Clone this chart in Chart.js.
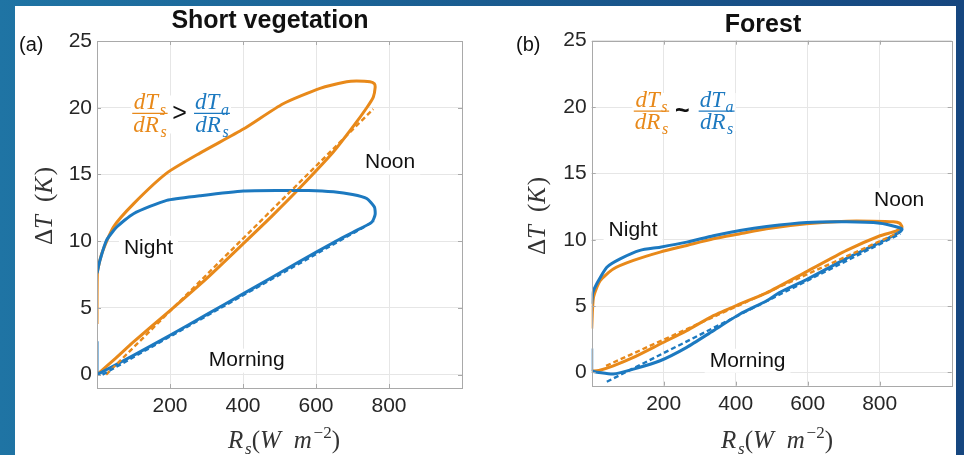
<!DOCTYPE html>
<html>
<head>
<meta charset="utf-8">
<script src="https://cdn.jsdelivr.net/npm/chart.js@4.4.1/dist/chart.umd.min.js"></script>
<style>
  html, body { margin:0; padding:0; }
  body { width:964px; height:455px; overflow:hidden; position:relative;
         background: linear-gradient(90deg, #1f74a4 0%, #1a5c90 50%, #16467f 100%); }
  #sheet { position:absolute; left:15px; top:6px; width:941px; height:449px; background:#fff; }
  canvas { position:absolute; top:0; }
  #chart-a { left:0; }
  #chart-b { left:465px; }
</style>
</head>
<body>
<div id="sheet">
  <canvas id="chart-a" width="465" height="449"></canvas>
  <canvas id="chart-b" width="476" height="449"></canvas>
</div>
<script>
// ═══════════════════════════════════════════════════════
//  Diurnal ΔT vs Rs hysteresis — short vegetation / forest
// ═══════════════════════════════════════════════════════

const TITLES  = ["Short vegetation", "Forest"];
const X_TICKS = [200, 400, 600, 800];
const Y_TICKS = [0, 5, 10, 15, 20, 25];

// ── (a) Short vegetation ─────────────────────────────────
const SV_TS_X = [0, 50, 100, 200, 300, 400, 480, 556, 648, 702, 739, 757, 762, 760, 748, 711, 684, 611, 510, 401, 282, 191, 100, 45, 13, 1, 0];
const SV_TS_Y = [0, 1.2, 2.45, 4.8, 7.2, 9.8, 11.9, 14.0, 16.7, 18.6, 20.0, 20.8, 21.5, 21.8, 21.95, 22.0, 21.95, 21.45, 20.3, 18.4, 16.6, 15.1, 12.8, 11.06, 9.06, 7.6, 3.8];
const SV_TA_X = [0, 100, 200, 300, 400, 480, 556, 648, 700, 753, 762, 760, 739, 700, 648, 580, 510, 401, 282, 191, 100, 54, 26, 8, 0];
const SV_TA_Y = [0, 1.45, 2.95, 4.5, 6.05, 7.3, 8.5, 9.9, 10.65, 11.43, 12.0, 12.56, 13.2, 13.5, 13.7, 13.8, 13.8, 13.76, 13.4, 13.06, 12.06, 11.06, 10.06, 8.56, 7.6];
const SV_TA_NIGHT_X = [0, 0];
const SV_TA_NIGHT_Y = [2.5, 0];
const SV_TS_FIT_X = [25, 757];
const SV_TS_FIT_Y = [0, 19.9];
const SV_TA_FIT_X = [15, 760];
const SV_TA_FIT_Y = [0, 11.5];

// ── (b) Forest ───────────────────────────────────────────
const FO_TS_X = [0, 20, 60, 116, 190, 264, 338, 412, 486, 597, 708, 801, 845, 862, 855, 838, 780, 708, 597, 486, 412, 338, 264, 190, 116, 60, 23, 5, 0];
const FO_TS_Y = [0.1, 0.15, 0.5, 1.13, 2.14, 3.15, 4.28, 5.16, 6.0, 7.6, 9.2, 10.3, 10.65, 10.95, 11.25, 11.35, 11.4, 11.4, 11.2, 10.83, 10.45, 10.07, 9.57, 9.07, 8.44, 7.8, 6.9, 5.66, 3.3];
const FO_TA_X = [0, 20, 60, 116, 190, 264, 338, 412, 486, 523, 597, 708, 801, 857, 862, 843, 801, 708, 597, 486, 412, 338, 264, 190, 134, 79, 42, 14, 3, 0];
const FO_TA_Y = [0.1, 0.0, -0.12, 0.25, 0.88, 1.89, 3.15, 4.4, 5.4, 6.04, 7.0, 8.6, 9.8, 10.6, 10.8, 11.0, 11.25, 11.35, 11.3, 11.0, 10.7, 10.3, 9.82, 9.44, 9.2, 8.56, 7.93, 6.68, 6.0, 5.17];
const FO_TA_NIGHT_X = [0, 0];
const FO_TA_NIGHT_Y = [1.8, 0.1];
const FO_TS_FIT_X = [40, 850];
const FO_TS_FIT_Y = [0.5, 10.5];
const FO_TA_FIT_X = [42, 857];
const FO_TA_FIT_Y = [-0.7, 10.45];

// ── Style ────────────────────────────────────────────────
const C_TS   = "#E8891A";
const C_TA   = "#1C79C0";
const SANS   = '"Liberation Sans", Arial, Helvetica, sans-serif';
const SERIF  = '"Liberation Serif", "Times New Roman", serif';
const FRAME  = "#a9a9a9";

const X_TITLE = [["R","i"],["s","sub"],["(","r"],["W","i"],["\u2009 ","r"],["m","i"],["\u22122","sup"],[")","r"]];
const Y_TITLE = [["\u0394","r"],["T","i"],["\u2009 ","r"],["(","r"],["K","i"],[")","r"]];
const FRAC_TS = { num:[["dT","i"],["s","sub"]], den:[["dR","i"],["s","sub"]] };
const FRAC_TA = { num:[["dT","i"],["a","sub"]], den:[["dR","i"],["s","sub"]] };

// ── Math text helpers ────────────────────────────────────
function mathFont(k, size) {
  if (k === "i")   return `italic ${size}px ${SERIF}`;
  if (k === "r")   return `${size}px ${SERIF}`;
  if (k === "sub") return `italic ${Math.round(size*0.68)}px ${SERIF}`;
  return `${Math.round(size*0.68)}px ${SERIF}`;
}
function mathWidth(ctx, runs, size) {
  return runs.reduce((w,[t,k]) => {
    ctx.font = mathFont(k, size);
    return w + ctx.measureText(t).width + (k==="i" ? size*0.07 : 0);
  }, 0);
}
function drawMath(ctx, runs, x, y, size) {
  ctx.textAlign = "left"; ctx.textBaseline = "alphabetic";
  runs.forEach(([t,k]) => {
    ctx.font = mathFont(k, size);
    const dy = k==="sub" ? size*0.22 : k==="sup" ? -size*0.42 : 0;
    ctx.fillText(t, x, y + dy);
    x += ctx.measureText(t).width + (k==="i" ? size*0.07 : 0);
  });
}
function drawFrac(ctx, f, cx, barY, size, color) {
  const wn = mathWidth(ctx, f.num, size), wd = mathWidth(ctx, f.den, size);
  const w  = Math.max(wn, wd) + 2;
  ctx.fillStyle = color; ctx.strokeStyle = color; ctx.lineWidth = 1.3;
  drawMath(ctx, f.num, cx - wn/2, barY - 4, size);
  drawMath(ctx, f.den, cx - wd/2, barY + size*0.8, size);
  ctx.beginPath(); ctx.moveTo(cx - w/2, barY); ctx.lineTo(cx + w/2, barY); ctx.stroke();
}

// ── Panel layout (canvas px / data positions of notes) ───
const PANELS = [
  { id:"chart-a", title:TITLES[0], tag:"(a)",
    series:[[SV_TA_FIT_X,SV_TA_FIT_Y,C_TA,true],[SV_TS_FIT_X,SV_TS_FIT_Y,C_TS,true],
            [SV_TA_NIGHT_X,SV_TA_NIGHT_Y,C_TA,false],[SV_TA_X,SV_TA_Y,C_TA,false],[SV_TS_X,SV_TS_Y,C_TS,false]],
    pad:{ top:35, right:18, bottom:0 }, yWidth:82, xHeight:67,
    titleAt:[255,15], tagAt:[4,39], yTitleAt:[28,200], xTitleAt:[269,442],
    notes:[["Night",141,9.5],["Noon",803,15.9],["Morning",410,1.05]],
    frac:{ a:145, op:226, b:315, y:19.57, sym:">" } },
  { id:"chart-b", title:TITLES[1], tag:"(b)",
    series:[[FO_TA_FIT_X,FO_TA_FIT_Y,C_TA,true],[FO_TS_FIT_X,FO_TS_FIT_Y,C_TS,true],
            [FO_TA_NIGHT_X,FO_TA_NIGHT_Y,C_TA,false],[FO_TA_X,FO_TA_Y,C_TA,false],[FO_TS_X,FO_TS_Y,C_TS,false]],
    pad:{ top:34.7, right:4.3, bottom:0 }, yWidth:111.7, xHeight:69.3,
    titleAt:[283,19], tagAt:[36,39], yTitleAt:[56,210], xTitleAt:[297,442],
    notes:[["Night",115,10.7],["Noon",854,13.0],["Morning",433,0.88]],
    frac:{ a:166, op:252, b:347, y:19.7, sym:"~" } }
];

// ── Plugins ──────────────────────────────────────────────
function noteBox(ctx, chart, n) {
  ctx.font = `21px ${SANS}`;
  const w = ctx.measureText(n[0]).width;
  const x = chart.scales.x.getPixelForValue(n[1]), y = chart.scales.y.getPixelForValue(n[2]);
  return { x, y, w };
}

const decorPlugin = {
  id: "decor",
  beforeDatasetsDraw(chart, args, o) {
    const ctx = chart.ctx, p = o.panel, sx = chart.scales.x, sy = chart.scales.y;
    ctx.save();
    ctx.fillStyle = "#fff";
    p.notes.forEach(n => {
      const b = noteBox(ctx, chart, n);
      ctx.fillRect(b.x - b.w/2 - 5, b.y - 12, b.w + 10, 24);
    });
    const fa = sx.getPixelForValue(p.frac.a), fb = sx.getPixelForValue(p.frac.b), fy = sy.getPixelForValue(p.frac.y);
    ctx.fillRect(fa - 19, fy - 18, fb - fa + 38, 38);
    ctx.restore();
  },
  afterDatasetsDraw(chart, args, o) {
    const ctx = chart.ctx, p = o.panel, a = chart.chartArea, sx = chart.scales.x, sy = chart.scales.y;
    ctx.save();
    // box + inward ticks
    ctx.strokeStyle = FRAME; ctx.lineWidth = 1;
    ctx.strokeRect(Math.round(a.left)+0.5, Math.round(a.top)+0.5, Math.round(a.right-a.left), Math.round(a.bottom-a.top));
    ctx.beginPath();
    X_TICKS.forEach(v => {
      const x = Math.round(sx.getPixelForValue(v)) + 0.5;
      ctx.moveTo(x, a.bottom); ctx.lineTo(x, a.bottom - 4);
      ctx.moveTo(x, a.top);    ctx.lineTo(x, a.top + 4);
    });
    Y_TICKS.forEach(v => {
      const y = Math.round(sy.getPixelForValue(v)) + 0.5;
      ctx.moveTo(a.left, y);  ctx.lineTo(a.left + 4, y);
      ctx.moveTo(a.right, y); ctx.lineTo(a.right - 4, y);
    });
    ctx.stroke();

    // notes
    ctx.fillStyle = "#111"; ctx.textAlign = "center"; ctx.textBaseline = "middle";
    p.notes.forEach(n => {
      const b = noteBox(ctx, chart, n);
      ctx.fillText(n[0], b.x, b.y);
    });

    // slope fractions
    const fy = sy.getPixelForValue(p.frac.y);
    drawFrac(ctx, FRAC_TS, sx.getPixelForValue(p.frac.a), fy, 23, C_TS);
    drawFrac(ctx, FRAC_TA, sx.getPixelForValue(p.frac.b), fy, 23, C_TA);
    ctx.fillStyle = "#111"; ctx.textAlign = "center"; ctx.textBaseline = "middle";
    ctx.font = p.frac.sym === ">" ? `25px ${SANS}` : `bold 25px ${SANS}`;
    ctx.fillText(p.frac.sym, sx.getPixelForValue(p.frac.op), fy + 1);

    // title + panel tag
    ctx.font = `bold 25px ${SANS}`;
    ctx.fillText(p.title, p.titleAt[0], p.titleAt[1]);
    ctx.font = `20px ${SANS}`; ctx.textAlign = "left";
    ctx.fillText(p.tag, p.tagAt[0], p.tagAt[1]);

    // axis titles
    ctx.fillStyle = "#333";
    const xs = 25, xw = mathWidth(ctx, X_TITLE, xs);
    drawMath(ctx, X_TITLE, p.xTitleAt[0] - xw/2, p.xTitleAt[1], xs);
    const ys = 25, yw = mathWidth(ctx, Y_TITLE, ys);
    ctx.translate(p.yTitleAt[0], p.yTitleAt[1]);
    ctx.rotate(-Math.PI/2);
    drawMath(ctx, Y_TITLE, -yw/2, ys*0.35, ys);
    ctx.restore();
  }
};

// ── Build charts ─────────────────────────────────────────
Chart.defaults.font.family = SANS;

function lineDs(xs, ys, color, dashed) {
  return {
    data: xs.map((x,i) => ({ x, y: ys[i] })),
    borderColor: color, borderWidth: dashed ? 2.4 : 3,
    borderDash: dashed ? [5,3] : [], tension: dashed ? 0 : 0.2,
    pointRadius: 0, fill: false, borderCapStyle: "butt", borderJoinStyle: "round"
  };
}

function renderPanel(p) {
  new Chart(document.getElementById(p.id).getContext("2d"), {
    type: "line",
    data: { datasets: p.series.map(s => lineDs(...s)) },
    options: {
      responsive: false, animation: false, events: [],
      layout: { padding: { left:0, right:p.pad.right, top:p.pad.top, bottom:p.pad.bottom } },
      plugins: {
        legend: { display:false }, tooltip: { enabled:false }, title: { display:false },
        decor: { panel:p }
      },
      scales: {
        x: { type:"linear", min:0, max:1000,
             afterBuildTicks: s => { s.ticks = X_TICKS.map(v => ({ value:v })); },
             afterFit: s => { s.height = p.xHeight; },
             grid: { color:"#e6e6e6", drawTicks:false }, border: { display:false },
             ticks: { color:"#262626", font:{ size:21 }, padding:6, maxRotation:0 } },
        y: { type:"linear", min:-1, max:25,
             afterBuildTicks: s => { s.ticks = Y_TICKS.map(v => ({ value:v })); },
             afterFit: s => { s.width = p.yWidth; },
             grid: { color:"#e6e6e6", drawTicks:false }, border: { display:false },
             ticks: { color:"#262626", font:{ size:21 }, padding:5 } }
      }
    },
    plugins: [decorPlugin]
  });
}

PANELS.forEach(renderPanel);
</script>
</body>
</html>
